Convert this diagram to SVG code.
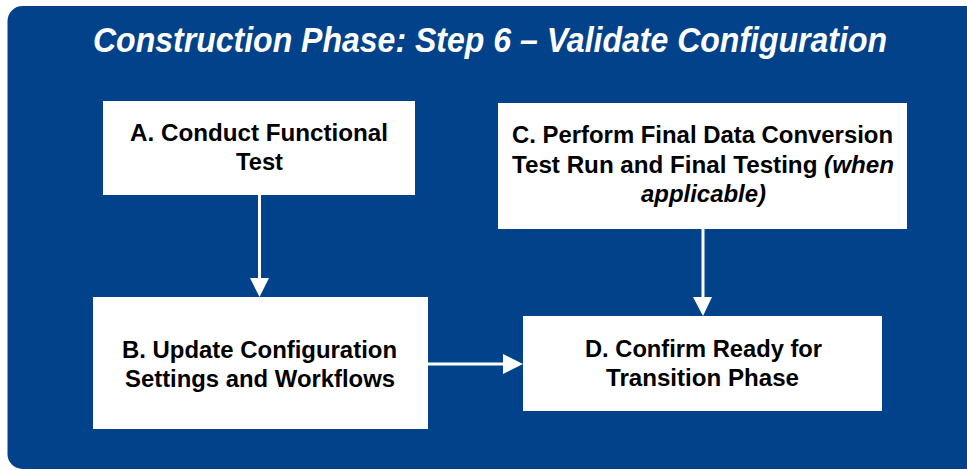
<svg xmlns="http://www.w3.org/2000/svg" width="967" height="470" viewBox="0 0 967 470">
<defs>
<style>
.bg{fill:#02428A}
.box{fill:#ffffff}
.t{font-family:"Liberation Sans",Arial,sans-serif;font-weight:bold;font-size:23px;fill:#000000;text-anchor:middle}
.i{font-style:italic}
.title{font-family:"Liberation Sans",Arial,sans-serif;font-weight:bold;font-style:italic;font-size:35px;fill:#ffffff}
.line{stroke:#ffffff;stroke-width:3;fill:none}
.head{fill:#ffffff}
</style>
</defs>
<rect class="bg" x="7.5" y="6" width="990" height="463" rx="15" ry="15"/>
<text class="title" x="93" y="52" textLength="794" lengthAdjust="spacingAndGlyphs">Construction Phase: Step 6 –  Validate Configuration</text>
<g id="connectors">
<line class="line" x1="259.5" y1="195" x2="259.5" y2="280"/>
<polygon class="head" points="250,278 269,278 259.5,297"/>
<line class="line" x1="703" y1="229" x2="703" y2="299"/>
<polygon class="head" points="693,297 712,297 703,316"/>
<line class="line" x1="428" y1="364" x2="505" y2="364"/>
<polygon class="head" points="503,354 503,374 523,364"/>
</g>
<g id="nodeA">
<rect class="box" x="103" y="101" width="312" height="94"/>
<text class="t" x="259" y="141" textLength="258" lengthAdjust="spacingAndGlyphs">A. Conduct Functional</text>
<text class="t" x="259.5" y="170" textLength="47" lengthAdjust="spacingAndGlyphs">Test</text>
</g>
<g id="nodeB">
<rect class="box" x="93" y="297" width="335" height="132"/>
<text class="t" x="259.5" y="358" textLength="275" lengthAdjust="spacingAndGlyphs">B. Update Configuration</text>
<text class="t" x="260" y="387" textLength="270" lengthAdjust="spacingAndGlyphs">Settings and Workflows</text>
</g>
<g id="nodeC">
<rect class="box" x="498" y="103" width="409" height="126"/>
<text class="t" x="702.5" y="143" textLength="381" lengthAdjust="spacingAndGlyphs">C. Perform Final Data Conversion</text>
<text class="t" x="703" y="173" textLength="382" lengthAdjust="spacingAndGlyphs">Test Run and Final Testing <tspan class="i">(when</tspan></text>
<text class="t i" x="703.5" y="202" textLength="125" lengthAdjust="spacingAndGlyphs">applicable)</text>
</g>
<g id="nodeD">
<rect class="box" x="523" y="316" width="359" height="95"/>
<text class="t" x="703.5" y="357" textLength="237" lengthAdjust="spacingAndGlyphs">D. Confirm Ready for</text>
<text class="t" x="702.5" y="386" textLength="193" lengthAdjust="spacingAndGlyphs">Transition Phase</text>
</g>
</svg>
